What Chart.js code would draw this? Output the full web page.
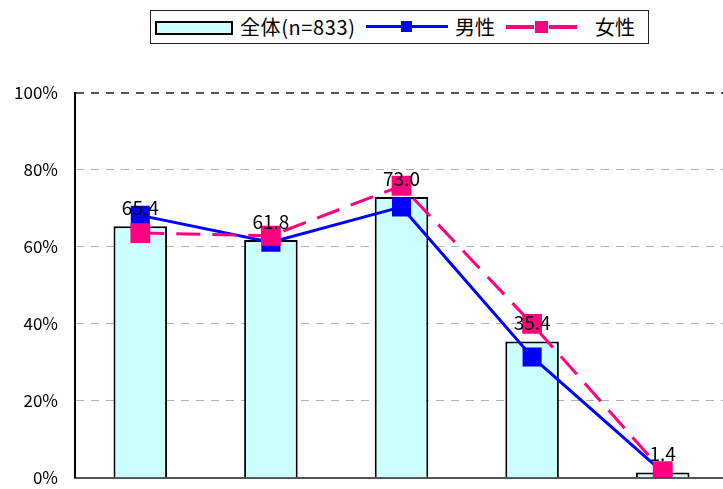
<!DOCTYPE html>
<html>
<head>
<meta charset="utf-8">
<script src="https://cdn.jsdelivr.net/npm/chart.js@4"></script>
<style>
  html, body { margin: 0; padding: 0; background: #fff; overflow: hidden; }
  #wrap { position: relative; width: 742px; height: 505px; }
  #legend {
    position: absolute; left: 150px; top: 10px; width: 499px; height: 34px;
    border: 1px solid #222; box-sizing: border-box; background: #fff;
    font-family: "Noto Sans CJK JP", sans-serif; font-size: 20px; color: #000;
  }
  #legend .it { position: absolute; top: 0; height: 32px; line-height: 32px; }
  .sw { position: absolute; }
</style>
</head>
<body>
<div id="wrap">
  <canvas id="myChart" width="742" height="505"></canvas>
  <div id="legend">
    <div class="sw" style="left:4px;top:10px;width:74px;height:10px;background:#ccffff;border:2px solid #000;"></div>
    <div class="it" style="left:89px;letter-spacing:0.6px;">全体(n=833)</div>
    <div class="sw" style="left:215px;top:14px;width:82px;height:3px;background:#0000ff;"></div>
    <div class="sw" style="left:250px;top:10px;width:11px;height:11px;background:#0000ff;"></div>
    <div class="it" style="left:304px;">男性</div>
    <div class="sw" style="left:355px;top:14px;width:28px;height:4px;background:#ff0080;"></div>
    <div class="sw" style="left:398px;top:14px;width:28px;height:4px;background:#ff0080;"></div>
    <div class="sw" style="left:384px;top:10px;width:13px;height:12px;background:#ff0080;"></div>
    <div class="it" style="left:444px;">女性</div>
  </div>
</div>
<script>
const categories = ['A', 'B', 'C', 'D', 'E'];
const totalValues = [65.4, 61.8, 73.0, 35.4, 1.4];
const maleValues = [68.2, 61.2, 70.4, 31.4, 1.5];
const femaleValues = [63.6, 62.9, 75.9, 40.0, 1.7];
const yTicks = [0, 20, 40, 60, 80, 100];

const labelPlugin = {
  id: 'barLabels',
  afterDatasetsDraw(chart) {
    const ctx = chart.ctx;
    const meta = chart.getDatasetMeta(0);
    ctx.save();
    ctx.font = '19px "Noto Sans CJK JP", sans-serif';
    ctx.fillStyle = '#000';
    ctx.textAlign = 'center';
    ctx.textBaseline = 'bottom';
    meta.data.forEach((bar, i) => {
      ctx.fillText(totalValues[i].toFixed(1), bar.x, bar.y - 9);
    });
    ctx.restore();
  }
};

document.addEventListener('DOMContentLoaded', function () {
  const ctx = document.getElementById('myChart');
  new Chart(ctx, {
    type: 'bar',
    data: {
      labels: categories,
      datasets: [
        {
          type: 'bar',
          label: '全体(n=833)',
          data: totalValues,
          backgroundColor: '#ccffff',
          borderColor: '#000',
          borderWidth: 2,
          barPercentage: 0.41,
          categoryPercentage: 1,
          order: 3
        },
        {
          type: 'line',
          label: '男性',
          data: maleValues,
          borderColor: '#0000ff',
          backgroundColor: '#0000ff',
          borderWidth: 3,
          pointStyle: 'rect',
          pointRadius: 13.5,
          pointBorderWidth: 0,
          order: 2
        },
        {
          type: 'line',
          label: '女性',
          data: femaleValues,
          borderColor: '#ff0080',
          backgroundColor: '#ff0080',
          borderWidth: 3,
          borderDash: [24, 12],
          pointStyle: 'rect',
          pointRadius: 14,
          pointBorderWidth: 0,
          order: 1
        }
      ]
    },
    options: {
      responsive: false,
      animation: false,
      layout: { padding: { top: 93, right: 0, bottom: 0, left: 0 } },
      plugins: { legend: { display: false }, tooltip: { enabled: false } },
      scales: {
        x: {
          afterFit: axis => { axis.height = 0; },
          ticks: { display: false },
          grid: { display: false, drawTicks: false },
          border: { color: '#555', width: 2 }
        },
        y: {
          min: 0,
          max: 100,
          afterBuildTicks: axis => { axis.ticks = yTicks.map(v => ({ value: v })); },
          afterFit: axis => { axis.width = 75; },
          ticks: {
            padding: 17,
            color: '#000',
            font: { family: '"Noto Sans CJK JP", sans-serif', size: 17 },
            callback: v => v + '%'
          },
          grid: {
            color: c => (c.tick && c.tick.value === 100) ? '#555' : '#b0b0b0',
            lineWidth: c => (c.tick && c.tick.value === 100) ? 2 : 1,
            drawTicks: false
          },
          border: { color: '#000', width: 2, dash: [8, 7] }
        }
      }
    },
    plugins: [labelPlugin]
  });
});
</script>
</body>
</html>
